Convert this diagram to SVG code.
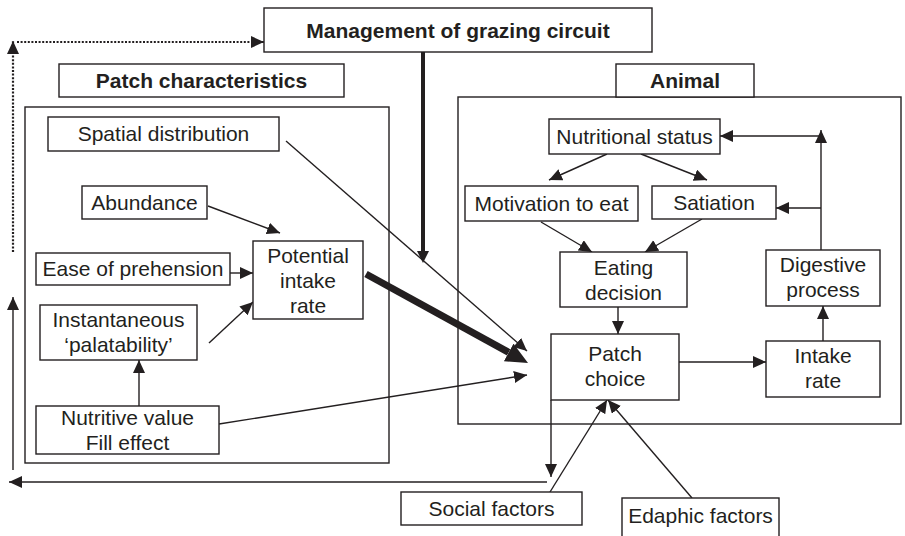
<svg xmlns="http://www.w3.org/2000/svg" width="905" height="536" viewBox="0 0 905 536">
<style>
.box{fill:#fff;stroke:#231f20;stroke-width:1.4}
.frame{fill:none;stroke:#231f20;stroke-width:1.4}
text{font-family:"Liberation Sans",Arial,sans-serif;font-size:21px;fill:#231f20;text-anchor:middle}
.b{font-weight:bold}
.ln{fill:none;stroke:#231f20;stroke-width:1.4}
.dot{fill:none;stroke:#231f20;stroke-width:2.2;stroke-dasharray:2 1.6}
</style>
<defs>
<marker id="a" markerUnits="userSpaceOnUse" markerWidth="14" markerHeight="13" refX="13" refY="6" orient="auto" viewBox="0 0 14 13">
<path d="M0,0 L13,6 L0,12 z" fill="#231f20"/>
</marker>
<marker id="am" markerUnits="userSpaceOnUse" markerWidth="13" markerHeight="13" refX="0" refY="6" orient="auto" viewBox="0 0 13 13">
<path d="M0,0 L12,6 L0,12 z" fill="#231f20"/>
</marker>
<marker id="at" markerUnits="userSpaceOnUse" markerWidth="23" markerHeight="21" refX="0" refY="10" orient="auto" viewBox="0 0 23 21">
<path d="M0,0 L22,10 L0,20 z" fill="#231f20"/>
</marker>
</defs>

<g id="patch-frame"><rect class="frame" x="25" y="107" width="364" height="356"/></g>
<g id="animal-frame"><rect class="frame" x="458" y="97" width="443" height="327"/></g>

<g id="connectors">
<line class="dot" x1="13" y1="252" x2="13" y2="41" marker-end="url(#a)"/>
<line class="dot" x1="17" y1="42" x2="264" y2="42" marker-end="url(#a)"/>
<line class="ln" x1="13" y1="470" x2="13" y2="297" marker-end="url(#a)"/>
<line class="ln" x1="547" y1="482" x2="9" y2="482" marker-end="url(#a)"/>
<line class="ln" x1="551" y1="400" x2="551" y2="477" marker-end="url(#a)"/>
<line x1="423" y1="52" x2="423" y2="251" stroke="#231f20" stroke-width="4" marker-end="url(#am)"/>
<line x1="366" y1="274" x2="508.7" y2="352.4" stroke="#231f20" stroke-width="7" marker-end="url(#at)"/>
<line class="ln" x1="208" y1="206" x2="280" y2="233" marker-end="url(#a)"/>
<line class="ln" x1="230" y1="273" x2="253" y2="273" marker-end="url(#a)"/>
<line class="ln" x1="209" y1="343" x2="253" y2="302" marker-end="url(#a)"/>
<line class="ln" x1="139" y1="406" x2="139" y2="360" marker-end="url(#a)"/>
<line class="ln" x1="286" y1="141" x2="527" y2="351" marker-end="url(#a)"/>
<line class="ln" x1="219" y1="424" x2="527" y2="375" marker-end="url(#a)"/>
<line class="ln" x1="607" y1="154" x2="549" y2="180" marker-end="url(#a)"/>
<line class="ln" x1="641" y1="154" x2="707" y2="180" marker-end="url(#a)"/>
<line class="ln" x1="541" y1="222" x2="592" y2="252" marker-end="url(#a)"/>
<line class="ln" x1="702" y1="219" x2="645" y2="252" marker-end="url(#a)"/>
<line class="ln" x1="618" y1="307" x2="618" y2="334" marker-end="url(#a)"/>
<line class="ln" x1="679" y1="362" x2="766" y2="362" marker-end="url(#a)"/>
<line class="ln" x1="823" y1="341" x2="823" y2="306" marker-end="url(#a)"/>
<line class="ln" x1="821" y1="250" x2="821" y2="130" marker-end="url(#a)"/>
<line class="ln" x1="821" y1="136" x2="720" y2="136" marker-end="url(#a)"/>
<line class="ln" x1="821" y1="208" x2="776" y2="208" marker-end="url(#a)"/>
<line class="ln" x1="550" y1="492" x2="607" y2="400" marker-end="url(#a)"/>
<line class="ln" x1="692" y1="498" x2="608" y2="400" marker-end="url(#a)"/>
</g>

<g id="management"><rect class="box" x="264" y="8" width="388" height="44"/><text class="b" x="458" y="38">Management of grazing circuit</text></g>
<g id="patch-characteristics"><rect class="box" x="59" y="64" width="285" height="33"/><text class="b" x="201.5" y="88">Patch characteristics</text></g>
<g id="animal"><rect class="box" x="616" y="64" width="138" height="33"/><text class="b" x="685" y="88">Animal</text></g>

<g id="spatial-distribution"><rect class="box" x="48" y="117" width="231" height="34"/><text x="163.5" y="141">Spatial distribution</text></g>
<g id="abundance"><rect class="box" x="82" y="186" width="125" height="33"/><text x="144.5" y="210">Abundance</text></g>
<g id="ease-of-prehension"><rect class="box" x="36" y="253" width="194" height="32"/><text x="133" y="276">Ease of prehension</text></g>
<g id="potential-intake-rate"><rect class="box" x="253" y="241" width="110" height="78"/><text x="308" y="263">Potential</text><text x="308" y="288">intake</text><text x="308" y="313">rate</text></g>
<g id="palatability"><rect class="box" x="40" y="305" width="157" height="55"/><text x="118.5" y="327">Instantaneous</text><text x="118.5" y="352">‘palatability’</text></g>
<g id="nutritive-value"><rect class="box" x="36" y="406" width="183" height="48"/><text x="127.5" y="425">Nutritive value</text><text x="127.5" y="450">Fill effect</text></g>

<g id="nutritional-status"><rect class="box" x="549" y="119" width="171" height="35"/><text x="634.5" y="144">Nutritional status</text></g>
<g id="motivation"><rect class="box" x="465" y="186" width="173" height="35"/><text x="551.5" y="211">Motivation to eat</text></g>
<g id="satiation"><rect class="box" x="652" y="186" width="124" height="33"/><text x="714" y="210">Satiation</text></g>
<g id="eating-decision"><rect class="box" x="560" y="252" width="127" height="55"/><text x="623.5" y="275">Eating</text><text x="623.5" y="300">decision</text></g>
<g id="digestive-process"><rect class="box" x="766" y="250" width="114" height="56"/><text x="823" y="272">Digestive</text><text x="823" y="297">process</text></g>
<g id="patch-choice"><rect class="box" x="551" y="334" width="128" height="66"/><text x="615" y="361">Patch</text><text x="615" y="386">choice</text></g>
<g id="intake-rate"><rect class="box" x="766" y="341" width="114" height="56"/><text x="823" y="363">Intake</text><text x="823" y="388">rate</text></g>

<g id="social-factors"><rect class="box" x="401" y="492" width="181" height="33"/><text x="491.5" y="516">Social factors</text></g>
<g id="edaphic-factors"><rect class="box" x="622" y="498" width="157" height="45"/><text x="700.5" y="523">Edaphic factors</text></g>
</svg>
